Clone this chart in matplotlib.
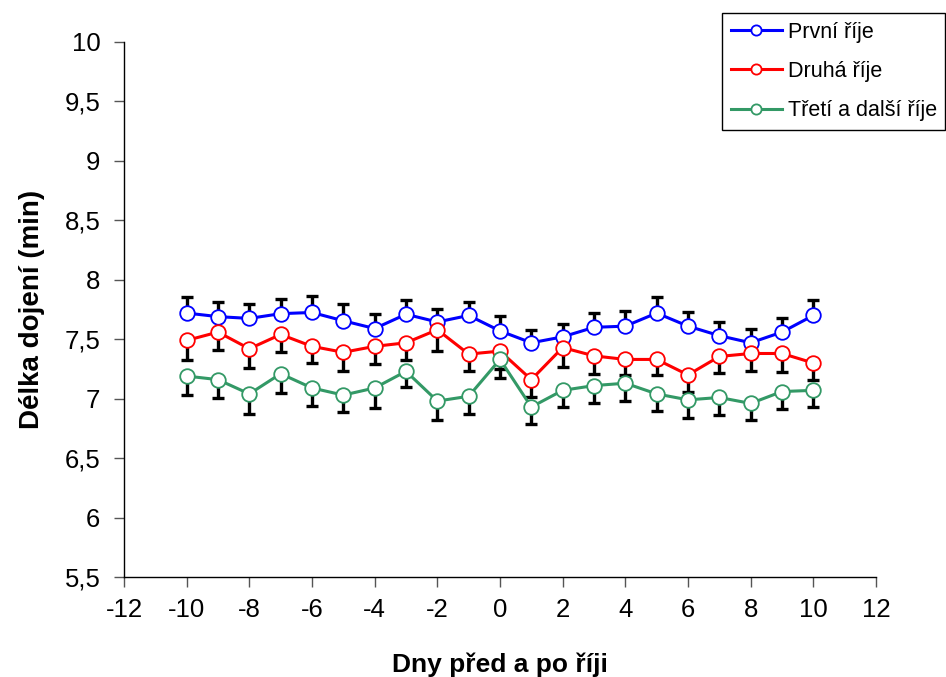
import matplotlib
matplotlib.use("Agg")
import matplotlib.pyplot as plt
from matplotlib.ticker import FuncFormatter, MultipleLocator

days = list(range(-10, 11))
prvni = [7.72, 7.69, 7.675, 7.715, 7.725, 7.655, 7.59, 7.71, 7.645, 7.70, 7.57,
         7.47, 7.52, 7.60, 7.61, 7.72, 7.61, 7.53, 7.47, 7.56, 7.70]
prvni_err = [0.137, 0.12, 0.12, 0.12, 0.14, 0.14, 0.12, 0.12, 0.107, 0.112, 0.126,
             0.109, 0.112, 0.12, 0.126, 0.137, 0.118, 0.118, 0.112, 0.12, 0.126]
druha = [7.49, 7.56, 7.42, 7.54, 7.44, 7.39, 7.44, 7.47, 7.58, 7.375, 7.40,
         7.16, 7.43, 7.36, 7.33, 7.33, 7.20, 7.355, 7.38, 7.38, 7.30]
druha_err = [0.166, 0.149, 0.16, 0.146, 0.137, 0.16, 0.146, 0.143, 0.179, 0.146, 0.15,
             0.146, 0.162, 0.154, 0.129, 0.135, 0.143, 0.14, 0.149, 0.157, 0.14]
treti = [7.19, 7.16, 7.04, 7.21, 7.09, 7.03, 7.09, 7.23, 6.98, 7.02, 7.33,
         6.93, 7.07, 7.11, 7.13, 7.04, 6.99, 7.01, 6.96, 7.06, 7.07]
treti_err = [0.162, 0.154, 0.166, 0.162, 0.154, 0.143, 0.166, 0.135, 0.157, 0.151, 0.157,
             0.146, 0.143, 0.149, 0.151, 0.14, 0.154, 0.149, 0.14, 0.143, 0.14]

series = [
    ("První říje", prvni, prvni_err, "#0000FF", "up"),
    ("Druhá říje", druha, druha_err, "#FF0000", "down"),
    ("Třetí a další říje", treti, treti_err, "#339966", "down"),
]

plt.rcParams['font.family'] = ['Liberation Sans', 'DejaVu Sans']

fig = plt.figure(figsize=(9.46, 6.77), dpi=100)
ax = fig.add_axes([124 / 946, 1 - 577 / 677, (876 - 124) / 946, (577 - 42) / 677])

for name, vals, err, col, direction in series:
    if direction == "up":
        yerr = [[0] * len(err), err]
    else:
        yerr = [err, [0] * len(err)]
    ax.errorbar(days, vals, yerr=yerr, fmt='none', ecolor='black',
                elinewidth=2.4, capsize=4.5, capthick=2.4, zorder=2)

for name, vals, err, col, direction in series:
    ax.plot(days, vals, color=col, lw=2.2, marker='o', markersize=10.5,
            markerfacecolor='white', markeredgecolor=col, markeredgewidth=1.3,
            label=name, zorder=3)

ax.set_xlim(-12, 12)
ax.set_ylim(5.5, 10)
ax.xaxis.set_major_locator(MultipleLocator(2))
ax.yaxis.set_major_locator(MultipleLocator(0.5))
ax.yaxis.set_major_formatter(FuncFormatter(lambda v, p: ("%g" % v).replace('.', ',')))
ax.xaxis.set_major_formatter(FuncFormatter(lambda v, p: "%d" % round(v)))
for s in ['top', 'right']:
    ax.spines[s].set_visible(False)
for s in ['left', 'bottom']:
    ax.spines[s].set_linewidth(1.0)
ax.tick_params(axis='both', direction='out', length=7, width=1.0, color='#555555',
               labelsize=18.5)
ax.tick_params(axis='y', pad=10)
ax.tick_params(axis='x', pad=8)

ax.set_ylabel("Délka dojení (min)", fontsize=20, fontweight='bold', labelpad=14)
ax.set_xlabel("Dny před a po říji", fontsize=19, fontweight='bold', labelpad=22)

leg = ax.legend(loc='upper left', bbox_to_anchor=(722 / 946, 1 - 13 / 677),
                bbox_transform=fig.transFigure, fontsize=15.5, frameon=True,
                fancybox=False, edgecolor='black', framealpha=1, borderpad=0.4,
                borderaxespad=0, handlelength=2.4, markerscale=0.7, labelspacing=0.85,
                handletextpad=0.25)
leg.get_frame().set_linewidth(1.0)

fig.savefig("out.png", dpi=100)
